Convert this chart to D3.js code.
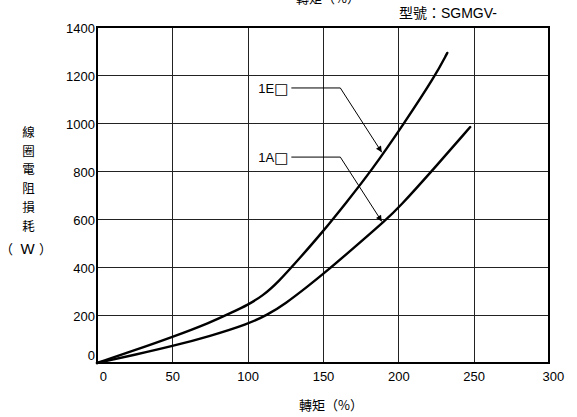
<!DOCTYPE html>
<html><head><meta charset="utf-8">
<script src="https://cdn.jsdelivr.net/npm/d3@7"></script>
<style>
html,body{margin:0;padding:0;background:#fff;}
svg{display:block;}
text{font-family:"Liberation Sans",Arial,sans-serif;fill:#000;}
.cjk{font-family:"Noto Sans CJK TC","Noto Sans CJK SC",sans-serif;}
</style></head>
<body>
<script>
// ---- data ----
const xTicks = [0, 50, 100, 150, 200, 250, 300];
const yTicks = [0, 200, 400, 600, 800, 1000, 1200, 1400];
const series1E = [[0,0],[25,53],[50,108],[75,168],[90,212],[100,242],[110,280],[120,335],[135,440],[150,548],[165,665],[182,800],[204,1000],[224.6,1198],[232.5,1292]];
const series1A = [[0,0],[25,34],[50,70],[75,112],[100,162],[113,200],[125,247],[140,320],[150,370],[170,477],[192.4,600],[200,645],[222.3,800],[247.7,983]];
const seriesNames = ["1E□", "1A□"];
const labelPos = [[127, 1146], [127, 858]];
const elbowPos = [[161.5, 1146], [161.5, 858]];
const tipPos = [[189, 878], [189, 590]];
const xTitle = "轉矩（%）";
const yTitleChars = ["線","圈","電","阻","損","耗"];
const yUnit = "（W）";
const modelText = "型號：SGMGV-";

const W = 577, H = 417;
const svg = d3.select("body").append("svg").attr("width", W).attr("height", H);
const x = d3.scaleLinear().domain([0, 300]).range([97, 549]);
const y = d3.scaleLinear().domain([0, 1400]).range([363, 27]);

// grid
svg.append("g").selectAll("line").data(xTicks.slice(1, -1)).join("line")
  .attr("x1", d => Math.round(x(d)) + 0.5).attr("x2", d => Math.round(x(d)) + 0.5)
  .attr("y1", y(1400)).attr("y2", y(0))
  .attr("stroke", "#222").attr("stroke-width", 1);
svg.append("g").selectAll("line").data(yTicks.slice(1, -1)).join("line")
  .attr("x1", x(0)).attr("x2", x(300))
  .attr("y1", d => Math.round(y(d)) + 0.5).attr("y2", d => Math.round(y(d)) + 0.5)
  .attr("stroke", "#222").attr("stroke-width", 1);

// frame
svg.append("rect").attr("x", x(0)).attr("y", y(1400))
  .attr("width", x(300) - x(0)).attr("height", y(0) - y(1400))
  .attr("fill", "none").attr("stroke", "#000").attr("stroke-width", 2);

// axes labels via d3 axes
const yAxis = d3.axisLeft(y).tickValues(yTicks).tickFormat(d3.format("d")).tickSize(0).tickPadding(2);
const gy = svg.append("g").attr("transform", `translate(${x(0)},0)`).call(yAxis);
gy.select(".domain").remove();
gy.selectAll("text").attr("font-size", 13).attr("font-family", "Liberation Sans, Arial, sans-serif")
  .attr("dy", d => d === 0 ? "-0.25em" : "0.45em");

const xAxis = d3.axisBottom(x).tickValues(xTicks).tickFormat(d3.format("d")).tickSize(0).tickPadding(9);
const gx = svg.append("g").attr("transform", `translate(0,${y(0)})`).call(xAxis);
gx.select(".domain").remove();
gx.selectAll("text").attr("font-size", 13).attr("font-family", "Liberation Sans, Arial, sans-serif")
  .attr("dx", d => d === 0 ? "0.45em" : d === 300 ? "0.3em" : 0);

// curves
const line = d3.line().x(d => x(d[0])).y(d => y(d[1])).curve(d3.curveBasis);
[series1E, series1A].forEach(s => {
  svg.append("path").datum(s).attr("d", line)
    .attr("fill", "none").attr("stroke", "#000").attr("stroke-width", 2.4)
    .attr("stroke-linecap", "round");
});

// annotations
svg.append("defs").append("marker").attr("id", "arr")
  .attr("viewBox", "0 0 10 10").attr("refX", 10).attr("refY", 5)
  .attr("markerWidth", 9).attr("markerHeight", 6).attr("markerUnits", "userSpaceOnUse")
  .attr("orient", "auto")
  .append("path").attr("d", "M0,0L10,5L0,10z").attr("fill", "#000");

seriesNames.forEach((name, i) => {
  const lp = labelPos[i], ep = elbowPos[i], tp = tipPos[i];
  svg.append("path")
    .attr("d", `M${x(lp[0]) + 3},${y(lp[1])}L${x(ep[0])},${y(ep[1])}L${x(tp[0])},${y(tp[1])}`)
    .attr("fill", "none").attr("stroke", "#000").attr("stroke-width", 1)
    .attr("marker-end", "url(#arr)");
  const t = svg.append("text").attr("x", x(lp[0])).attr("y", y(lp[1]) + 5)
    .attr("text-anchor", "end").attr("font-size", 13);
  t.append("tspan").text(name.slice(0, 2));
  t.append("tspan").attr("font-family", "DejaVu Sans").attr("font-size", 15)
    .attr("dy", 1).style("fill", "#000").text(name.slice(2));
});

// titles
svg.append("text").attr("class", "cjk").attr("x", 328).attr("y", 3)
  .attr("text-anchor", "middle").attr("font-size", 13).text(xTitle);
svg.append("text").attr("class", "cjk").attr("x", 331).attr("y", 410)
  .attr("text-anchor", "middle").attr("font-size", 13).text(xTitle);
const mt = svg.append("text").attr("class", "cjk").attr("x", 497).attr("y", 18)
  .attr("text-anchor", "end").attr("font-size", 14);
mt.append("tspan").text(modelText.slice(0, 3));
mt.append("tspan").attr("font-family", "Liberation Sans, Arial, sans-serif").text(modelText.slice(3));

yTitleChars.forEach((c, i) => {
  svg.append("text").attr("class", "cjk").attr("x", 28.5).attr("y", 137 + i * 18.7)
    .attr("text-anchor", "middle").attr("font-size", 12.5).text(c);
});
// unit "（W）" drawn as one text with spaced tspans
const ut = svg.append("text").attr("class", "cjk").attr("x", 0).attr("y", 254).attr("font-size", 13);
ut.append("tspan").text(yUnit[0]);
ut.append("tspan").attr("x", 20.5).attr("font-family", "Liberation Sans, Arial, sans-serif").attr("font-size", 15).text(yUnit[1]);
ut.append("tspan").attr("x", 39).text(yUnit[2]);
</script>
</body></html>
